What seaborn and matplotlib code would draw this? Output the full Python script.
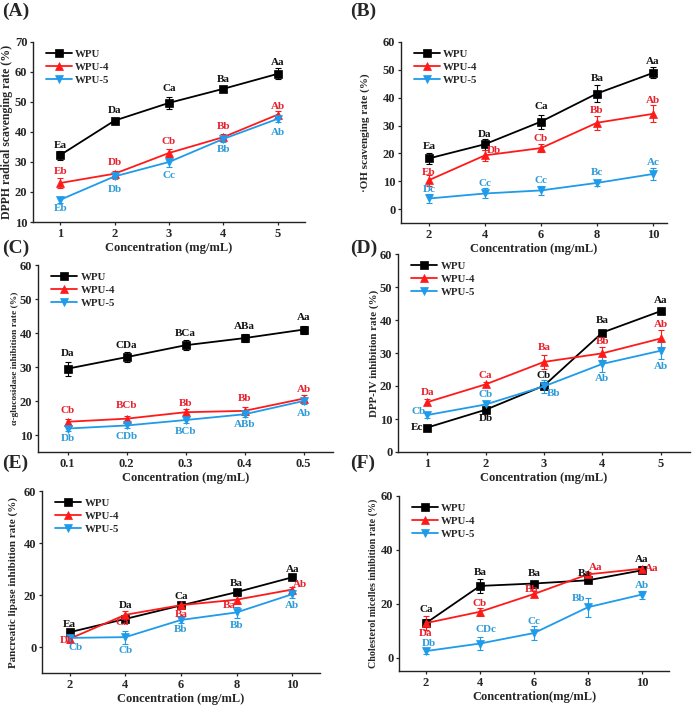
import numpy as np
import pandas as pd
import matplotlib
matplotlib.use("Agg")
import matplotlib.pyplot as plt
import matplotlib.transforms as mtransforms
import seaborn as sns

# ---------------- data ----------------
series_names = ["WPU", "WPU-4", "WPU-5"]

# (A) DPPH
conc_A = [1, 2, 3, 4, 5]
A_wpu = [32.3, 43.8, 49.7, 54.4, 59.4]
A_wpu4 = [23.0, 26.1, 33.0, 38.3, 45.8]
A_wpu5 = [17.4, 25.2, 30.0, 37.7, 44.4]
A_err_wpu = [1.5, 1.0, 2.0, 0.8, 1.8]
A_err_wpu4 = [1.8, 1.0, 1.2, 1.0, 1.2]
A_err_wpu5 = [1.0, 1.0, 1.5, 1.0, 1.0]
A_lab_wpu = ["Ea", "Da", "Ca", "Ba", "Aa"]
A_lab_wpu4 = ["Eb", "Db", "Cb", "Bb", "Ab"]
A_lab_wpu5 = ["Eb", "Db", "Cc", "Bb", "Ab"]

# (B) OH
conc_B = [2, 4, 6, 8, 10]
B_wpu = [18.2, 23.3, 31.4, 41.5, 48.9]
B_wpu4 = [10.4, 19.3, 21.9, 31.0, 34.2]
B_wpu5 = [3.8, 5.6, 6.7, 9.4, 12.6]
B_err_wpu = [2.0, 2.0, 2.5, 3.0, 2.0]
B_err_wpu4 = [2.0, 2.0, 1.5, 2.5, 3.0]
B_err_wpu5 = [1.5, 1.8, 1.5, 1.0, 2.0]
B_lab_wpu = ["Ea", "Da", "Ca", "Ba", "Aa"]
B_lab_wpu4 = ["Eb", "Db", "Cb", "Bb", "Ab"]
B_lab_wpu5 = ["Dc", "Cc", "Cc", "Bc", "Ac"]

# (C) alpha-glucosidase
conc_C = [0.1, 0.2, 0.3, 0.4, 0.5]
C_wpu = [29.5, 32.9, 36.4, 38.5, 41.0]
C_wpu4 = [13.9, 14.8, 16.7, 17.1, 20.7]
C_wpu5 = [11.9, 12.8, 14.4, 16.1, 20.0]
C_err_wpu = [2.0, 1.5, 1.5, 1.2, 1.2]
C_err_wpu4 = [0.8, 0.8, 1.0, 1.2, 1.0]
C_err_wpu5 = [0.8, 0.8, 0.8, 0.8, 0.8]
C_lab_wpu = ["Da", "CDa", "BCa", "ABa", "Aa"]
C_lab_wpu4 = ["Cb", "BCb", "Bb", "Bb", "Ab"]
C_lab_wpu5 = ["Db", "CDb", "BCb", "ABb", "Ab"]

# (D) DPP-IV
conc_D = [1, 2, 3, 4, 5]
D_wpu = [7.4, 12.8, 20.1, 36.2, 42.7]
D_wpu4 = [15.1, 20.5, 27.3, 29.9, 34.4]
D_wpu5 = [11.2, 14.4, 19.9, 26.7, 30.7]
D_err_wpu = [0.8, 0.8, 1.0, 0.8, 0.8]
D_err_wpu4 = [1.0, 0.8, 2.0, 2.0, 2.5]
D_err_wpu5 = [1.0, 1.0, 2.0, 2.5, 2.5]
D_lab_wpu = ["Ec", "Db", "Cb", "Ba", "Aa"]
D_lab_wpu4 = ["Da", "Ca", "Ba", "Bb", "Ab"]
D_lab_wpu5 = ["Cb", "Cb", "Bb", "Ab", "Ab"]

# (E) pancreatic lipase
conc_E = [2, 4, 6, 8, 10]
E_wpu = [5.7, 10.8, 16.0, 21.1, 26.8]
E_wpu4 = [3.2, 12.4, 16.1, 18.2, 22.1]
E_wpu5 = [3.5, 3.8, 10.4, 13.3, 20.3]
E_err_wpu = [1.0, 1.0, 1.0, 1.0, 1.0]
E_err_wpu4 = [1.5, 1.5, 1.0, 1.5, 1.0]
E_err_wpu5 = [1.5, 2.5, 1.0, 2.0, 1.5]
E_lab_wpu = ["Ea", "Da", "Ca", "Ba", "Aa"]
E_lab_wpu4 = ["Db", "Ca", "Ba", "Ba", "Ab"]
E_lab_wpu5 = ["Cb", "Cb", "Bb", "Bb", "Ab"]

# (F) cholesterol micelles
conc_F = [2, 4, 6, 8, 10]
F_wpu = [12.8, 26.6, 27.5, 28.7, 32.4]
F_wpu4 = [12.8, 17.0, 23.6, 30.9, 33.0]
F_wpu5 = [2.4, 5.2, 9.1, 18.7, 23.4]
F_err_wpu = [1.5, 2.5, 1.0, 1.0, 1.0]
F_err_wpu4 = [2.5, 1.5, 1.0, 1.0, 1.0]
F_err_wpu5 = [1.0, 2.5, 2.5, 3.5, 1.5]
F_lab_wpu = ["Ca", "Ba", "Ba", "Ba", "Aa"]
F_lab_wpu4 = ["Da", "Cb", "Bb", "Aa", "Aa"]
F_lab_wpu5 = ["Db", "CDc", "Cc", "Bb", "Ab"]

# ---------------- style ----------------
sns.set_theme(style="ticks")
plt.rcParams["font.family"] = ["Liberation Serif", "DejaVu Serif"]
plt.rcParams["font.weight"] = "bold"
plt.rcParams["axes.labelweight"] = "bold"

colors = ["#000000", "#FF1A1A", "#1E9BEA"]
text_colors = ["#111111", "#E8202C", "#2C9BD8"]
markers = ["s", "^", "v"]

W, H = 692, 708
fig = plt.figure(figsize=(W / 100, H / 100), dpi=100)


def make_ax(l, r, t, b):
    a = fig.add_axes([l / W, 1 - b / H, (r - l) / W, (b - t) / H])
    a.set_facecolor("none")
    return a


def up(*d):
    return [(0, v) for v in d]


def dn(*d):
    return [(0, -v) for v in d]


# label offsets in pixels (layout only)
panels = [
    dict(letter="(A)", box=(33, 305, 42, 222), x=conc_A,
         ys=[A_wpu, A_wpu4, A_wpu5], es=[A_err_wpu, A_err_wpu4, A_err_wpu5],
         labs=[A_lab_wpu, A_lab_wpu4, A_lab_wpu5],
         offs=[up(10, 10, 14, 9, 11), up(11, 11, 11, 11, 8), dn(9, 13, 13, 11, 14)],
         xlim=(0.5, 5.5), ylim=(10, 70), yticks=range(10, 71, 10),
         ylabel="DPPH radical scavenging rate (%)", ylsize=8.5, ylx=13,
         xlabel="Concentration (mg/mL)", letter_xy=(2, 3)),
    dict(letter="(B)", box=(401, 667, 42, 223), x=conc_B,
         ys=[B_wpu, B_wpu4, B_wpu5], es=[B_err_wpu, B_err_wpu4, B_err_wpu5],
         labs=[B_lab_wpu, B_lab_wpu4, B_lab_wpu5],
         offs=[up(12, 10, 15, 15, 11), [(0, 8), (9, 5), (0, 10), (0, 12), (0, 13)],
               up(9, 10, 10, 10, 11)],
         xlim=(1, 10.5), ylim=(-5, 60), yticks=range(0, 61, 10),
         ylabel="·OH scavenging rate (%)", ylsize=8, ylx=370,
         xlabel="Concentration (mg/mL)", letter_xy=(350, 3)),
    dict(letter="(C)", box=(38, 333, 265, 452), x=conc_C,
         ys=[C_wpu, C_wpu4, C_wpu5], es=[C_err_wpu, C_err_wpu4, C_err_wpu5],
         labs=[C_lab_wpu, C_lab_wpu4, C_lab_wpu5],
         offs=[up(15, 12, 12, 12, 12), up(11, 13, 9, 12, 9), dn(10, 11, 11, 10, 13)],
         xlim=(0.05, 0.55), ylim=(5, 60), yticks=range(10, 61, 10),
         ylabel="α-glucosidase inhibition rate (%)", ylsize=6.8, ylx=19,
         xlabel="Concentration (mg/mL)", letter_xy=(2, 240)),
    dict(letter="(D)", box=(398, 690, 254, 452), x=conc_D,
         ys=[D_wpu, D_wpu4, D_wpu5], es=[D_err_wpu, D_err_wpu4, D_err_wpu5],
         labs=[D_lab_wpu, D_lab_wpu4, D_lab_wpu5],
         offs=[[(-10, 0), (0, -9), (0, 10), (0, 12), (0, 11)], up(10, 9, 14, 12, 14),
               [(-9, 4), (0, 10), (10, -7), (0, -15), (0, -16)]],
         xlim=(0.5, 5.5), ylim=(0, 60), yticks=range(0, 61, 10),
         ylabel="DPP-IV inhibition rate (%)", ylsize=7.8, ylx=379,
         xlabel="Concentration (mg/mL)", letter_xy=(350, 240)),
    dict(letter="(E)", box=(42, 320, 491, 673), x=conc_E,
         ys=[E_wpu, E_wpu4, E_wpu5], es=[E_err_wpu, E_err_wpu4, E_err_wpu5],
         labs=[E_lab_wpu, E_lab_wpu4, E_lab_wpu5],
         offs=[up(8, 13, 9, 9, 8), [(-3, -2), (-3, -8), (0, -9), (-7, -6), (8, 5)],
               [(6, -10), (0, -13), (0, -10), (0, -13), (0, -11)]],
         xlim=(1, 11), ylim=(-10, 60), yticks=range(0, 61, 20),
         ylabel="Pancreatic lipase inhibition rate (%)", ylsize=7.9, ylx=18,
         xlabel="Concentration (mg/mL)", letter_xy=(2, 455)),
    dict(letter="(F)", box=(399, 669, 496, 671), x=conc_F,
         ys=[F_wpu, F_wpu4, F_wpu5], es=[F_err_wpu, F_err_wpu4, F_err_wpu5],
         labs=[F_lab_wpu, F_lab_wpu4, F_lab_wpu5],
         offs=[[(0, 14), (0, 13), (0, 10), (-4, 7), (0, 11)],
               [(0, -10), (0, 8), (-2, 4), (8, 7), (10, 0)],
               [(3, 8), (6, 14), (0, 12), (-9, 9), (0, 9)]],
         xlim=(1, 11), ylim=(-5, 60), yticks=range(0, 61, 20),
         ylabel="Cholesterol micelles inhibition rate (%)", ylsize=7.2, ylx=378,
         xlabel="Concentration(mg/mL)", letter_xy=(350, 455)),
]

for p in panels:
    ax = make_ax(*p["box"])
    for i, name in enumerate(series_names):
        df = pd.DataFrame({"x": p["x"], "y": p["ys"][i]})
        ax.errorbar(p["x"], p["ys"][i], yerr=p["es"][i], fmt="none",
                    ecolor=colors[i], elinewidth=0.8, capsize=2, capthick=0.8, zorder=2)
        sns.lineplot(data=df, x="x", y="y", ax=ax, color=colors[i], marker=markers[i],
                     markersize=6, markeredgewidth=0.5, markeredgecolor=colors[i],
                     linewidth=1.3, label=name, zorder=3)
        for xv, yv, lab, off in zip(p["x"], p["ys"][i], p["labs"][i], p["offs"][i]):
            ax.annotate(lab, (xv, yv), xytext=off, textcoords="offset pixels",
                        ha="center", va="center",
                        fontsize=8, fontweight="bold", color=text_colors[i], zorder=4)
    ax.set_xlim(*p["xlim"])
    ax.set_ylim(*p["ylim"])
    ax.set_xticks(p["x"])
    ax.set_xticklabels([f"{v:g}" for v in p["x"]])
    ax.set_yticks(list(p["yticks"]))
    ax.tick_params(axis="both", direction="out", length=2.5, width=0.9, labelsize=9, pad=1.5)
    for lbl in ax.get_xticklabels() + ax.get_yticklabels():
        lbl.set_fontweight("bold")
    sns.despine(ax=ax)
    for s in ["left", "bottom"]:
        ax.spines[s].set_linewidth(1.0)
        ax.spines[s].set_color("#222222")
    ax.set_xlabel(p["xlabel"], fontsize=9, fontweight="bold", labelpad=2)
    ax.set_ylabel(p["ylabel"], fontsize=p["ylsize"], fontweight="bold")
    blend = mtransforms.blended_transform_factory(fig.transFigure, ax.transAxes)
    ax.yaxis.set_label_coords(p["ylx"] / W, 0.5, transform=blend)
    leg = ax.legend(loc="upper left", frameon=False, fontsize=7.8, handlelength=2.4,
                    handletextpad=0.3, borderaxespad=0.3, labelspacing=0.3,
                    bbox_to_anchor=(0.02, 1.0))
    for t in leg.get_texts():
        t.set_fontweight("bold")
    fig.text(p["letter_xy"][0] / W, 1 - p["letter_xy"][1] / H, p["letter"],
             fontsize=14, fontweight="bold", va="top", ha="left")

fig.savefig("out.png", dpi=100)
